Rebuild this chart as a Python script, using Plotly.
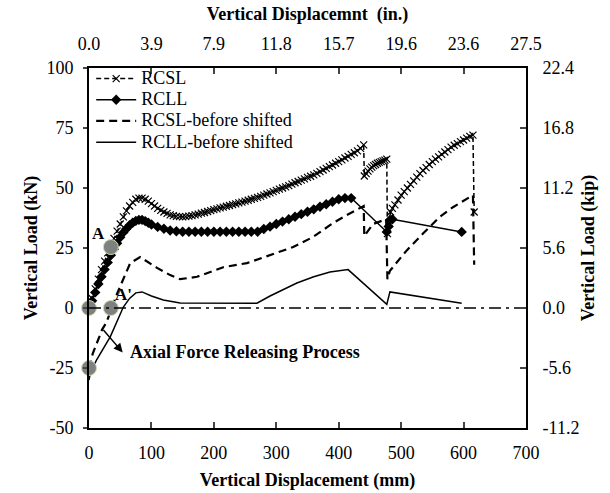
import plotly.graph_objects as go

# ---------------- data ----------------
rcsl_x = [0, 5, 10, 15, 20, 25, 30, 35, 40, 45, 50, 55, 60, 65, 70, 75, 80, 85, 90, 95,
          100, 105, 110, 115, 120, 125, 130, 135, 140, 145, 150, 155, 160, 165, 170, 175,
          180, 185, 190, 195, 200, 205, 210, 215, 220, 225, 230, 235, 240, 245, 250, 255,
          260, 265, 270, 275, 280, 285, 290, 295, 300, 305, 310, 315, 320, 325, 330, 335,
          340, 345, 350, 355, 360, 365, 370, 375, 380, 385, 390, 395, 400, 405, 410, 415,
          420, 425, 430, 435, 440, 441, 444, 447, 450, 453, 456, 459, 462, 465, 468, 471,
          474, 477, 478, 480, 483, 486, 490, 495, 500, 505, 510, 515, 520, 525, 530, 535,
          540, 545, 550, 555, 560, 565, 570, 575, 580, 585, 590, 595, 600, 605, 610, 615, 617]
rcsl_y = [0, 4, 8, 12, 16, 19.5, 23, 26, 29, 32, 35, 38, 40.5, 42.5, 44, 45.3, 45.8, 45.8, 45.3, 44.5,
          43.5, 42.5, 41.5, 40.7, 40, 39.4, 38.8, 38.5, 38.2, 38.1, 38, 38.1, 38.3, 38.5, 38.8, 39.1,
          39.5, 39.8, 40.2, 40.6, 41, 41.3, 41.7, 42, 42.4, 42.7, 43.1, 43.4, 43.8, 44.1, 44.5, 44.9,
          45.3, 45.7, 46.1, 46.5, 47, 47.5, 48, 48.5, 49, 49.5, 50, 50.5, 51, 51.6, 52.2, 52.7,
          53.3, 53.8, 54.4, 54.9, 55.5, 56.1, 56.8, 57.5, 58.2, 58.9, 59.6, 60.3, 61, 61.7, 62.5, 63.2,
          64, 64.7, 65.5, 66.5, 68, 55, 56, 57, 58, 58.7, 59.3, 59.8, 60.3, 60.7, 61, 61.3,
          61.6, 62, 31, 35, 40, 41.5, 43, 45, 47, 48.5, 50, 51.5, 53, 54.5, 56, 57.3,
          58.5, 59.8, 61, 62, 63, 64, 65, 66, 67, 67.8, 68.5, 69.3, 70, 70.8, 71.5, 72, 40]

rcll_x = [0, 5, 10, 15, 20, 25, 30, 35, 40, 45, 50, 55, 60, 65, 70, 75, 80, 85, 90, 95,
          100, 110, 120, 130, 140, 150, 160, 170, 180, 190, 200, 210, 220, 230, 240, 250,
          260, 270, 280, 290, 300, 310, 320, 330, 340, 350, 360, 370, 380, 390, 400, 410,
          420, 477, 480, 482, 486, 597]
rcll_y = [0, 3, 6.5, 10, 13, 16, 19, 22, 24.5, 27, 29.5, 31.5, 33, 34.5, 35.5, 36.3, 36.7, 36.7, 36.2, 35.5,
          34.8, 33.8, 33, 32.3, 32, 31.8, 31.8, 31.8, 31.8, 31.8, 31.8, 31.8, 31.8, 31.8, 31.8, 31.8,
          31.8, 31.8, 32.9, 33.9, 35, 36, 37, 38, 39.1, 40.1, 41.1, 42.2, 43.2, 44.3, 45.3, 45.8,
          45.8, 31.7, 34, 36.7, 37, 31.7]

rcsl_b_x = [0, 6, 21, 28, 45, 66, 82, 109, 130, 146, 173, 215, 253, 290, 327, 359, 391, 413, 440,
            441, 455, 476, 478, 482, 509, 535, 562, 583, 610, 615, 617]
rcsl_b_y = [-25, -19, -9, -6, 6, 18.7, 21.2, 16.7, 13.7, 12, 13, 17, 18.7, 22, 25.4, 29.6, 35.4, 38.7, 42.5,
            30, 35, 37, 12, 15.5, 24, 31, 38, 42, 46, 47, 18]

rcll_b_x = [0, 2, 12, 34, 55, 65, 75, 85, 100, 119, 146, 200, 269, 290, 333, 360, 386, 415, 477, 482, 597]
rcll_b_y = [-30, -27, -21.7, -12, 0.4, 4, 6.3, 6.7, 5, 3.3, 2.1, 2, 2, 5, 10.4, 13, 15, 16, 1.5, 6.7, 2]

series_names = ["RCSL", "RCLL", "RCSL-before shifted", "RCLL-before shifted"]

# key points (gray circles) and their labels
pt_x = [0, 35, 35, 0]
pt_y = [0, 25.4, 0, -25]
lbl_text = ["O", "A", "A'", "O'"]
lbl_x = [-14, 16, 55, -24]
lbl_y = [-5.5, 31, 5.5, -32]

# axis ticks
x_ticks = [0, 100, 200, 300, 400, 500, 600, 700]
x_bottom_labels = ["0", "100", "200", "300", "400", "500", "600", "700"]
x_top_labels = ["0.0", "3.9", "7.9", "11.8", "15.7", "19.6", "23.6", "27.5"]
y_ticks = [-50, -25, 0, 25, 50, 75, 100]
y_left_labels = ["-50", "-25", "0", "25", "50", "75", "100"]
y_right_labels = ["-11.2", "-5.6", "0.0", "5.6", "11.2", "16.8", "22.4"]

# arrow for the axial force releasing process (tail, head) and text anchor
arrow_tail = (21, -8.5)
arrow_head = (54, -18.5)
arrow_text_pos = (63, -18.5)

FONT = "'Liberation Serif', 'Times New Roman', Times, serif"


def legend_name(s):
    # larger glyphs than the legend row height, like the reference's compact legend
    return "<span style='font-size:18px'>%s</span>" % s


fig = go.Figure()

fig.add_trace(go.Scatter(x=rcsl_x, y=rcsl_y, name=legend_name(series_names[0]), mode="lines+markers",
                         line=dict(color="black", width=1.5, dash="5px,3px"),
                         marker=dict(symbol="x-thin", size=7, line=dict(color="black", width=1.2))))
fig.add_trace(go.Scatter(x=rcll_x, y=rcll_y, name=legend_name(series_names[1]), mode="lines+markers",
                         line=dict(color="black", width=1.5),
                         marker=dict(symbol="diamond", size=8, color="black")))
fig.add_trace(go.Scatter(x=rcsl_b_x, y=rcsl_b_y, name=legend_name(series_names[2]), mode="lines",
                         line=dict(color="black", width=2.2, dash="8px,5px")))
fig.add_trace(go.Scatter(x=rcll_b_x, y=rcll_b_y, name=legend_name(series_names[3]), mode="lines",
                         line=dict(color="black", width=1.5)))

# zero reference (dash-dot) on the secondary axes, which share the same scale
fig.add_trace(go.Scatter(x=[x_ticks[0], x_ticks[-1]], y=[0, 0], mode="lines", showlegend=False,
                         xaxis="x2", yaxis="y2", hoverinfo="skip",
                         line=dict(color="black", width=1.3, dash="12px,5px,3px,5px")))

fig.add_trace(go.Scatter(x=pt_x, y=pt_y, mode="markers", showlegend=False, cliponaxis=False,
                         marker=dict(size=15, color="#808080", line=dict(color="#c8e0b0", width=1))))

for t, lx, ly in zip(lbl_text, lbl_x, lbl_y):
    fig.add_annotation(x=lx, y=ly, text="<b>%s</b>" % t, showarrow=False,
                       font=dict(family=FONT, size=17, color="black"))

fig.add_annotation(x=arrow_head[0], y=arrow_head[1], ax=arrow_tail[0], ay=arrow_tail[1],
                   axref="x", ayref="y", text="", showarrow=True, arrowhead=2, arrowsize=1.2,
                   arrowwidth=1.5, arrowcolor="black", startarrowhead=0)
fig.add_annotation(x=arrow_text_pos[0], y=arrow_text_pos[1], text="<b>Axial Force Releasing Process</b>",
                   showarrow=False, xanchor="left",
                   font=dict(family=FONT, size=18, color="black"))

tickfont = dict(family=FONT, size=18, color="black")
titlefont = dict(family=FONT, size=18, color="black")

fig.update_layout(
    width=610, height=493,
    margin=dict(l=89, r=84, t=68, b=65, autoexpand=False),
    paper_bgcolor="white", plot_bgcolor="white",
    font=dict(family=FONT, color="black"),
    showlegend=True,
    legend=dict(x=0.005, y=1.014, xanchor="left", yanchor="top", bgcolor="rgba(0,0,0,0)",
                font=dict(family=FONT, size=14, color="black"), tracegroupgap=0,
                itemwidth=40),
    xaxis=dict(range=[0, 700], tickvals=x_ticks, ticktext=x_bottom_labels, ticks="inside", ticklen=6,
               tickwidth=1.5, automargin=False,
               showline=True, linewidth=2, linecolor="black", showgrid=False, zeroline=False,
               tickfont=tickfont, ticklabelstandoff=7,
               title=dict(text="<b>Vertical Displacement (mm)</b>", font=titlefont, standoff=12)),
    xaxis2=dict(range=[0, 700], tickvals=x_ticks, ticktext=x_top_labels, overlaying="x", side="top",
                ticks="inside", ticklen=6, tickwidth=1.5, showline=True, linewidth=2, linecolor="black",
                automargin=False,
                showgrid=False, zeroline=False, tickfont=tickfont, ticklabelstandoff=9,
                title=dict(text="<b>Vertical Displacemnt  (in.)</b>", font=titlefont, standoff=8)),
    yaxis=dict(range=[-50, 100], tickvals=y_ticks, ticktext=y_left_labels, ticks="outside", ticklen=4,
               tickwidth=1.5, automargin=False,
               showline=True, linewidth=2, linecolor="black", showgrid=False, zeroline=False,
               tickfont=tickfont, ticklabelstandoff=6,
               title=dict(text="<b>Vertical Load (kN)</b>", font=titlefont, standoff=4)),
    yaxis2=dict(range=[-50, 100], tickvals=y_ticks, ticktext=y_right_labels, overlaying="y", side="right",
                ticks="inside", ticklen=6, tickwidth=1.5, showline=True, linewidth=2, linecolor="black",
                automargin=False,
                showgrid=False, zeroline=False, tickfont=tickfont, ticklabelstandoff=11,
                title=dict(text="<b>Vertical Load (kip)</b>", font=titlefont, standoff=3)),
)

fig.write_html("out.html", post_script="document.body.style.margin='0';",
               config={"displayModeBar": False})
